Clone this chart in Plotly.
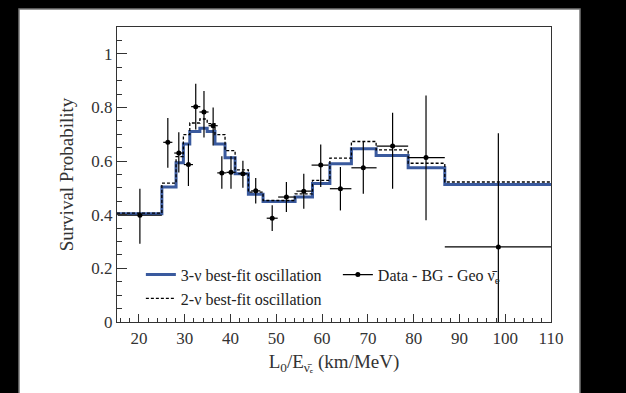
import plotly.graph_objects as go

# ---- data ----
bin_edges = [15.2, 25.0, 28.1, 29.7, 31.1, 33.3, 34.9, 36.6, 38.8, 41.0, 43.9, 47.1,
             54.1, 57.9, 61.7, 66.4, 71.8, 78.8, 86.8, 110.0]
fit3 = [0.404, 0.503, 0.594, 0.664, 0.710, 0.722, 0.710, 0.664, 0.612, 0.553, 0.476,
        0.449, 0.466, 0.516, 0.590, 0.646, 0.621, 0.575, 0.513]
fit2 = [0.406, 0.518, 0.617, 0.699, 0.742, 0.757, 0.740, 0.699, 0.639, 0.567, 0.484,
        0.453, 0.478, 0.528, 0.611, 0.673, 0.642, 0.592, 0.522]

data_x = [20.2, 26.3, 28.7, 30.8, 32.4, 34.2, 36.2, 38.1, 40.1, 42.7, 45.5, 49.1,
          52.2, 56.0, 59.7, 64.0, 69.0, 75.4, 82.7, 98.5]
data_y = [0.398, 0.670, 0.630, 0.587, 0.803, 0.783, 0.732, 0.556, 0.558, 0.553, 0.489,
          0.387, 0.466, 0.488, 0.585, 0.497, 0.575, 0.656, 0.613, 0.280]
err_up = [0.099, 0.091, 0.078, 0.078, 0.085, 0.078, 0.068, 0.062, 0.060, 0.048, 0.048,
          0.048, 0.056, 0.065, 0.077, 0.081, 0.096, 0.124, 0.232, 0.424]
err_dn = [0.106, 0.095, 0.073, 0.080, 0.085, 0.095, 0.074, 0.059, 0.061, 0.052, 0.047,
          0.048, 0.056, 0.066, 0.082, 0.081, 0.097, 0.159, 0.234, 0.280]
xerr_lo = [4.8, 1.0, 1.0, 1.0, 1.0, 1.0, 1.0, 1.0, 1.0, 1.0, 1.0, 1.2,
           1.8, 1.6, 2.0, 2.3, 2.6, 3.5, 3.9, 11.7]
xerr_hi = [4.8, 1.0, 1.0, 1.0, 1.0, 1.0, 1.0, 1.0, 1.0, 1.0, 1.0, 1.2,
           1.9, 1.7, 1.7, 2.4, 2.9, 3.4, 4.1, 11.5]

x_ticks = [20, 30, 40, 50, 60, 70, 80, 90, 100, 110]
y_ticks = [0, 0.2, 0.4, 0.6, 0.8, 1]

FONT = "Liberation Serif"
AX = "#333333"

fig = go.Figure()

fig.add_trace(go.Scatter(
    x=bin_edges, y=fit3 + [fit3[-1]], mode="lines", line_shape="hv",
    line=dict(color="#3a5a9e", width=3),
    name="3-ν best-fit oscillation"))

# legend-only entry for the data (line + dot)
fig.add_trace(go.Scatter(
    x=[None], y=[None], mode="lines+markers",
    line=dict(color="black", width=1.3),
    marker=dict(color="black", size=5),
    name="Data - BG - Geo ν̄<sub>e</sub>"))

fig.add_trace(go.Scatter(
    x=bin_edges, y=fit2 + [fit2[-1]], mode="lines", line_shape="hv",
    line=dict(color="black", width=1.3, dash="3px,2px"),
    name="2-ν best-fit oscillation"))

fig.add_trace(go.Scatter(
    x=data_x, y=data_y, mode="markers", showlegend=False,
    marker=dict(color="black", size=5),
    error_y=dict(type="data", symmetric=False, array=err_up, arrayminus=err_dn,
                 color="black", thickness=1.2, width=0),
    error_x=dict(type="data", symmetric=False, array=xerr_hi, arrayminus=xerr_lo,
                 color="black", thickness=1.2, width=0),
    name="data"))

# page frame: black bands with white card
fig.add_shape(type="rect", xref="paper", yref="paper",
              x0=(19 - 117) / 434, x1=(580 - 117) / 434,
              y0=(322 - 400) / 295, y1=(322 - 9) / 295,
              fillcolor="white", line=dict(color="#777777", width=1.5), layer="below")

fig.update_layout(
    width=626, height=393,
    margin=dict(l=117, r=75, t=27, b=71),
    paper_bgcolor="black", plot_bgcolor="rgba(0,0,0,0)",
    font=dict(family=FONT, color=AX, size=16),
    showlegend=True,
    legend=dict(orientation="h", x=0.055, y=0.218, xanchor="left", yanchor="top",
                bgcolor="rgba(0,0,0,0)", font=dict(family=FONT, size=16, color="#222"),
                entrywidth=152, itemwidth=30, tracegroupgap=0, traceorder="normal"),
)

fig.update_xaxes(
    range=[15.2, 110], tickvals=x_ticks, ticktext=[str(v) for v in x_ticks],
    ticks="inside", ticklen=8, tickwidth=1, tickcolor=AX,
    minor=dict(dtick=2, tick0=0, ticks="inside", ticklen=4, tickcolor=AX, tickwidth=1),
    showline=True, linecolor=AX, linewidth=1.2, mirror=True, showgrid=False, zeroline=False,
    tickfont=dict(family=FONT, size=17, color=AX),
    title=dict(text="L<sub>0</sub>/E<sub>ν̄ₑ</sub> (km/MeV)", standoff=8,
               font=dict(family=FONT, size=19, color=AX)),
)
fig.update_yaxes(
    range=[0, 1.1], tickvals=y_ticks, ticktext=["0", "0.2", "0.4", "0.6", "0.8", "1"],
    ticks="inside", ticklen=10, tickwidth=1, tickcolor=AX,
    minor=dict(dtick=0.05, tick0=0, ticks="inside", ticklen=5, tickcolor=AX, tickwidth=1),
    showline=True, linecolor=AX, linewidth=1.2, mirror=True, showgrid=False, zeroline=False,
    tickfont=dict(family=FONT, size=17, color=AX),
    title=dict(text="Survival Probability", standoff=12,
               font=dict(family=FONT, size=19, color=AX)),
)

fig.write_html("out.html")
